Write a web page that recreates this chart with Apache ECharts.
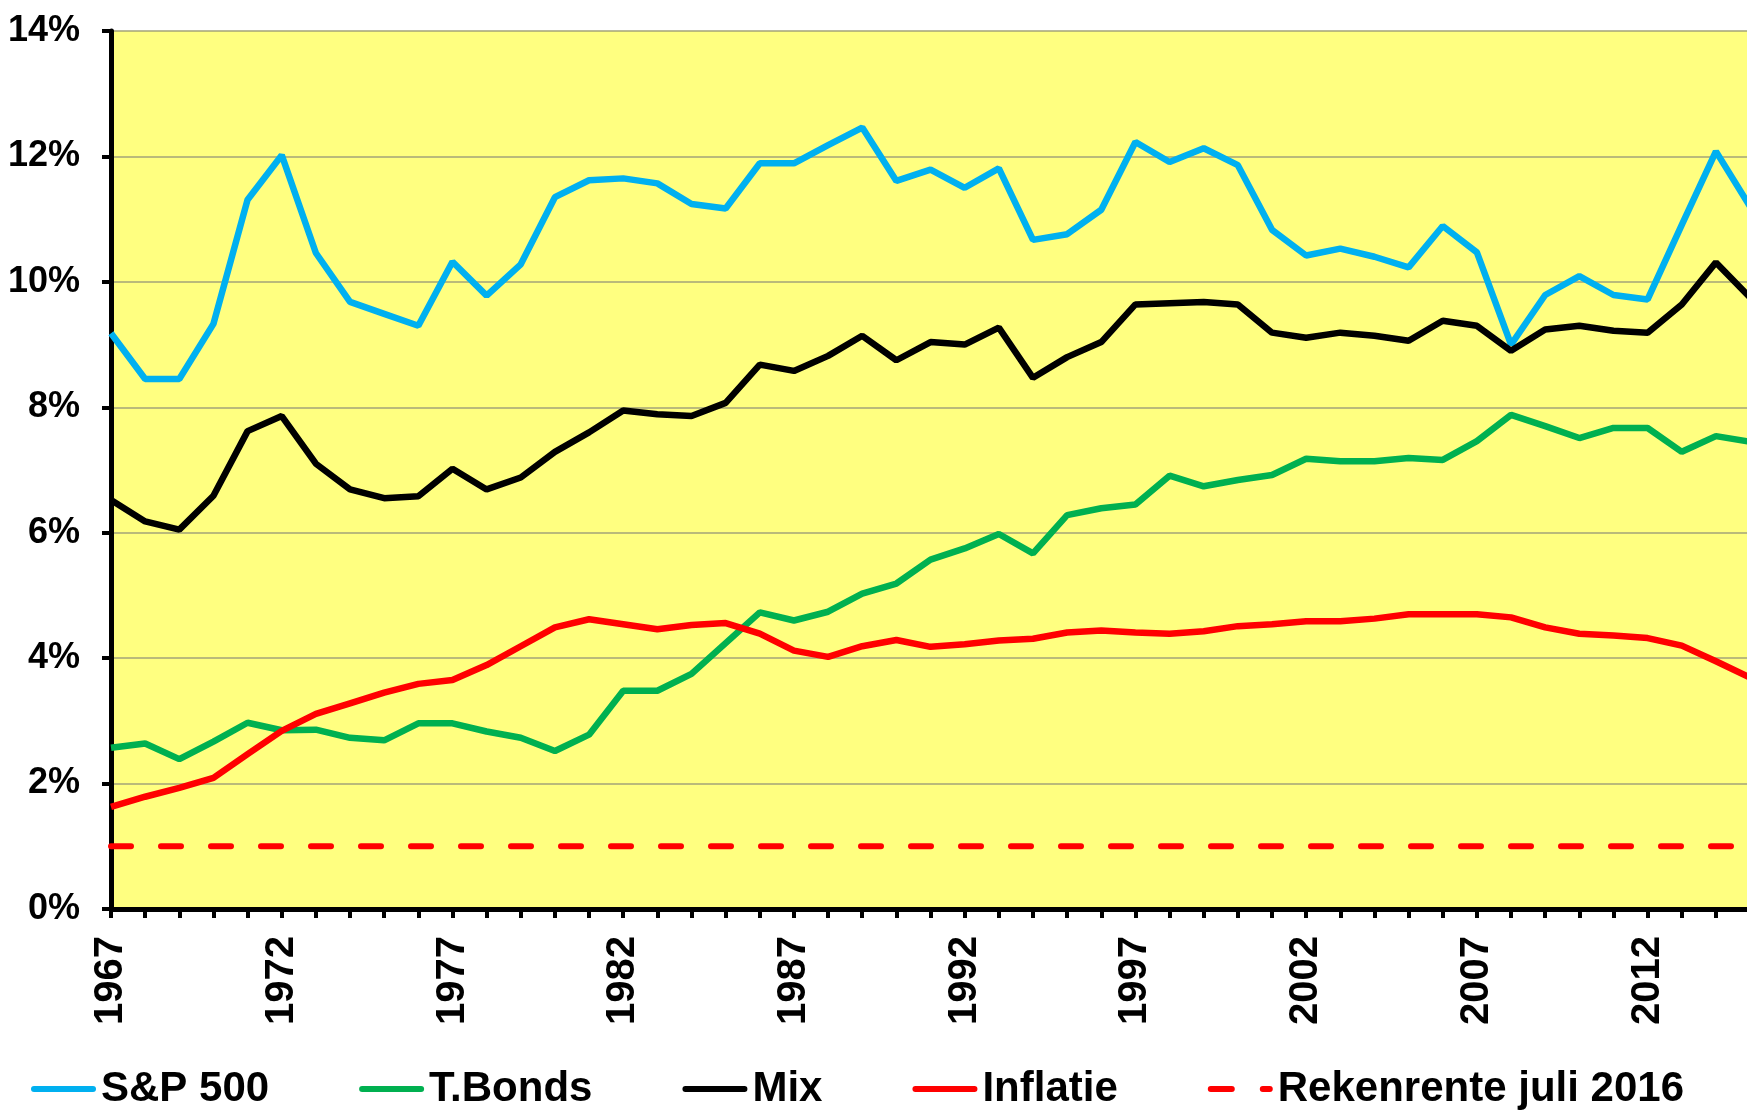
<!DOCTYPE html>
<html>
<head>
	<meta charset="utf-8">
	<title>Rendement S&amp;P 500, T.Bonds, Mix, Inflatie</title>
	<script src="https://cdn.jsdelivr.net/npm/echarts@6/dist/echarts.min.js"></script>
	<style>
		html, body {margin: 0; padding: 0; background: #ffffff; overflow: hidden;}
	</style>
</head>
<body>
	<div id="main" style="width: 1747px;height: 1115px"></div>
	<script type="text/javascript">
		// jaren (x-as)
		var years = [1967, 1968, 1969, 1970, 1971, 1972, 1973, 1974, 1975, 1976,
			1977, 1978, 1979, 1980, 1981, 1982, 1983, 1984, 1985, 1986,
			1987, 1988, 1989, 1990, 1991, 1992, 1993, 1994, 1995, 1996,
			1997, 1998, 1999, 2000, 2001, 2002, 2003, 2004, 2005, 2006,
			2007, 2008, 2009, 2010, 2011, 2012, 2013, 2014, 2015];

		// rendementen in %
		var sp500 = [9.18, 8.45, 8.45, 9.33, 11.31, 12.02, 10.46, 9.68, 9.49, 9.30,
			10.32, 9.78, 10.28, 11.35, 11.62, 11.65, 11.57, 11.24, 11.17, 11.89,
			11.89, 12.18, 12.46, 11.61, 11.79, 11.50, 11.81, 10.67, 10.76, 11.15,
			12.23, 11.91, 12.13, 11.86, 10.83, 10.42, 10.53, 10.40, 10.23, 10.89,
			10.47, 9.00, 9.79, 10.09, 9.79, 9.72, 10.91, 12.08, 11.20];
		var tbonds = [2.57, 2.64, 2.39, 2.67, 2.97, 2.85, 2.86, 2.73, 2.69, 2.96,
			2.96, 2.83, 2.73, 2.52, 2.78, 3.48, 3.48, 3.75, 4.24, 4.73,
			4.60, 4.74, 5.03, 5.19, 5.57, 5.75, 5.98, 5.67, 6.28, 6.39,
			6.45, 6.91, 6.74, 6.84, 6.92, 7.18, 7.14, 7.14, 7.19, 7.16,
			7.46, 7.88, 7.70, 7.51, 7.67, 7.67, 7.29, 7.54, 7.45];
		var mix = [6.52, 6.18, 6.05, 6.59, 7.62, 7.86, 7.10, 6.69, 6.55, 6.58,
			7.02, 6.69, 6.88, 7.29, 7.60, 7.95, 7.89, 7.86, 8.07, 8.68,
			8.58, 8.82, 9.14, 8.75, 9.04, 9.00, 9.27, 8.47, 8.80, 9.04,
			9.64, 9.66, 9.68, 9.64, 9.19, 9.11, 9.19, 9.14, 9.06, 9.38,
			9.30, 8.90, 9.24, 9.30, 9.22, 9.19, 9.64, 10.31, 9.75];
		var inflatie = [1.63, 1.79, 1.93, 2.09, 2.47, 2.84, 3.11, 3.28, 3.45, 3.59,
			3.65, 3.89, 4.19, 4.49, 4.62, 4.54, 4.46, 4.53, 4.56, 4.39,
			4.12, 4.02, 4.19, 4.29, 4.18, 4.22, 4.28, 4.31, 4.41, 4.44,
			4.41, 4.39, 4.43, 4.51, 4.54, 4.59, 4.59, 4.63, 4.70, 4.70,
			4.70, 4.65, 4.49, 4.39, 4.36, 4.32, 4.20, 3.95, 3.69];
		// rekenrente juli 2016 (vlakke lijn)
		var rekenrenteYears = [1967, 2015];
		var rekenrente = [1.0, 1.0];

		var seriesNames = ['S&P 500', 'T.Bonds', 'Mix', 'Inflatie', 'Rekenrente juli 2016'];

		function pairs(xs, ys) {
			return xs.map(function (x, i) { return [x, ys[i]]; });
		}

		// legend-iconen: doorgetrokken balk, en twee streepjes voor de rekenrente
		var solidIcon = 'path://M3,0 L62,0 A3,3 0 0 1 62,6 L3,6 A3,3 0 0 1 3,0 Z';
		var dashIcon = 'path://M3,0 L24,0 A3,3 0 0 1 24,6 L3,6 A3,3 0 0 1 3,0 Z M55,0 L62,0 A3,3 0 0 1 62,6 L55,6 A3,3 0 0 1 55,0 Z';

		var myChart = echarts.init(document.getElementById('main'));
		var option = {
			backgroundColor: '#ffffff',
			animation: false,
			grid: {
				left: 111,
				right: 0,
				top: 31,
				bottom: 206,
				show: true,
				backgroundColor: '#ffff80',
				borderWidth: 0
			},
			xAxis: {
				type: 'value',
				min: 1967,
				max: 2014.91,
				interval: 1,
				axisLine: {lineStyle: {color: '#000', width: 5}},
				axisTick: {show: true, length: 9, lineStyle: {color: '#000', width: 4}},
				splitLine: {show: false},
				axisLabel: {
					rotate: 90,
					margin: 27,
					color: '#000',
					fontFamily: "'Liberation Sans', Arial, sans-serif",
					fontWeight: 'bold',
					fontSize: 40,
					showMaxLabel: false,
					formatter: function (v) {
						return ((v - 1967) % 5 === 0) ? String(v) : '';
					}
				}
			},
			yAxis: {
				type: 'value',
				min: 0,
				max: 14,
				interval: 2,
				axisLine: {show: true, lineStyle: {color: '#000', width: 5}},
				axisTick: {show: true, length: 9, lineStyle: {color: '#000', width: 4}},
				splitLine: {show: true, lineStyle: {color: '#a3a378', width: 1.5}},
				axisLabel: {
					margin: 31,
					color: '#000',
					fontFamily: "'Liberation Sans Narrow', 'Liberation Sans', Arial, sans-serif",
					fontWeight: 'bold',
					fontSize: 36,
					formatter: '{value}%'
				}
			},
			legend: {
				left: 26,
				top: 1063,
				itemWidth: 65,
				itemHeight: 6,
				itemGap: 90,
				data: [
					{name: seriesNames[0], icon: solidIcon},
					{name: seriesNames[1], icon: solidIcon},
					{name: seriesNames[2], icon: solidIcon},
					{name: seriesNames[3], icon: solidIcon},
					{name: seriesNames[4], icon: dashIcon}
				],
				textStyle: {
					color: '#000',
					fontFamily: "'Liberation Sans', Arial, sans-serif",
					fontWeight: 'bold',
					fontSize: 42
				}
			},
			series: [
				{
					name: seriesNames[0],
					type: 'line',
					symbol: 'none',
					data: pairs(years, sp500),
					lineStyle: {color: '#00b0f0', width: 6.5},
					itemStyle: {color: '#00b0f0'}
				},
				{
					name: seriesNames[1],
					type: 'line',
					symbol: 'none',
					data: pairs(years, tbonds),
					lineStyle: {color: '#00b050', width: 6.5},
					itemStyle: {color: '#00b050'}
				},
				{
					name: seriesNames[2],
					type: 'line',
					symbol: 'none',
					data: pairs(years, mix),
					lineStyle: {color: '#000000', width: 6.5},
					itemStyle: {color: '#000000'}
				},
				{
					name: seriesNames[3],
					type: 'line',
					symbol: 'none',
					data: pairs(years, inflatie),
					lineStyle: {color: '#ff0000', width: 6.5},
					itemStyle: {color: '#ff0000'}
				},
				{
					name: seriesNames[4],
					type: 'line',
					symbol: 'none',
					data: pairs(rekenrenteYears, rekenrente),
					lineStyle: {color: '#ff0000', width: 6, type: [20, 30], cap: 'round'},
					itemStyle: {color: '#ff0000'}
				}
			]
		};
		myChart.setOption(option);
	</script>
</body>
</html>
